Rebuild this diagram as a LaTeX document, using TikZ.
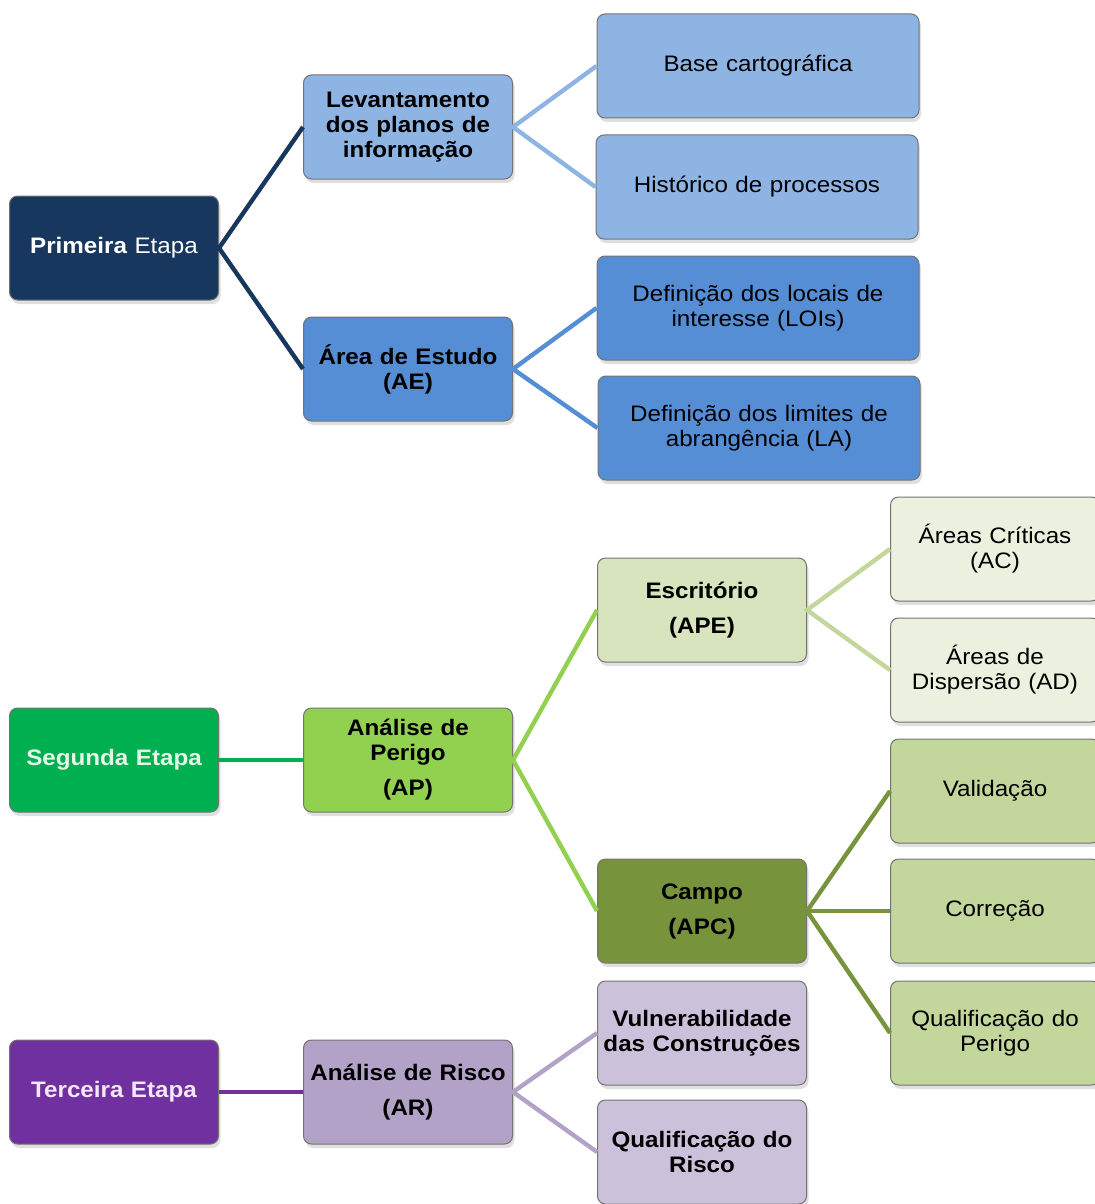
\documentclass[tikz,border=0pt]{standalone}
\usepackage{fontspec}
\setmainfont{Liberation Sans}[FakeStretch=1.08]
\usetikzlibrary{shadows}
\definecolor{navy}{HTML}{17375E}
\definecolor{skyblue}{HTML}{8EB4E3}
\definecolor{midblue}{HTML}{558ED5}
\definecolor{grass}{HTML}{00B050}
\definecolor{lime}{HTML}{92D050}
\definecolor{sage}{HTML}{D7E4BD}
\definecolor{olive}{HTML}{77933C}
\definecolor{moss}{HTML}{C3D69B}
\definecolor{mint}{HTML}{EBF1DE}
\definecolor{violet}{HTML}{7030A0}
\definecolor{lilac}{HTML}{B3A2C7}
\definecolor{mauve}{HTML}{CCC1DA}
\definecolor{mintink}{HTML}{E4F7E8}
\definecolor{pinkink}{HTML}{F3E8F7}

\begin{document}
\begin{tikzpicture}[
  x=0.5pt,y=-0.5pt,
  box/.style={draw=black!55,line width=0.5pt,rounded corners=4pt,align=center,
    minimum width=104.5pt,minimum height=52pt,text width=100pt,inner sep=2pt,
    font=\fontsize{11.2}{12.5}\selectfont,
    drop shadow={shadow xshift=1pt,shadow yshift=-2pt,opacity=0.25}},
  wide/.style={box,minimum width=161pt,text width=150pt},
  link/.style={line width=2.2pt}
]
\useasboundingbox (0,0) rectangle (1094,1204);
% stages
\node[box,fill=navy,text=white] (prim) at (114,248) {\textbf{Primeira} Etapa};
\node[box,fill=grass,text=mintink,font=\fontsize{11.2}{12.5}\selectfont\bfseries] (seg) at (114,760) {Segunda Etapa};
\node[box,fill=violet,text=pinkink,font=\fontsize{11.2}{12.5}\selectfont\bfseries] (ter) at (114,1092) {Terceira Etapa};
% first stage
\node[box,fill=skyblue,font=\fontsize{11.2}{12.5}\selectfont\bfseries] (lev) at (408,127) {Levantamento\\dos planos de\\informação};
\node[box,fill=midblue,font=\fontsize{11.2}{12.5}\selectfont\bfseries] (ae) at (408,369) {Área de Estudo\\(AE)};
\node[wide,fill=skyblue] (base) at (758,66) {Base cartográfica};
\node[wide,fill=skyblue] (hist) at (757,187) {Histórico de processos};
\node[wide,fill=midblue] (loi) at (758,308) {Definição dos locais de\\interesse (LOIs)};
\node[wide,fill=midblue] (la) at (759,428) {Definição dos limites de\\abrangência (LA)};
% second stage
\node[box,fill=lime,font=\fontsize{11.2}{12.5}\selectfont\bfseries] (ap) at (408,760) {Análise de\\Perigo\\[5pt](AP)};
\node[box,fill=sage,font=\fontsize{11.2}{12.5}\selectfont\bfseries] (esc) at (702,610) {Escritório\\[5pt](APE)};
\node[box,fill=olive,font=\fontsize{11.2}{12.5}\selectfont\bfseries] (campo) at (702,911) {Campo\\[5pt](APC)};
\node[box,fill=mint] (ac) at (995,549) {Áreas Críticas\\(AC)};
\node[box,fill=mint] (ad) at (995,670) {Áreas de\\Dispersão (AD)};
\node[box,fill=moss] (val) at (995,791) {Validação};
\node[box,fill=moss] (cor) at (995,911) {Correção};
\node[box,fill=moss] (qper) at (995,1033) {Qualificação do\\Perigo};
% third stage
\node[box,fill=lilac,font=\fontsize{11.2}{12.5}\selectfont\bfseries] (ar) at (408,1092) {Análise de Risco\\[5pt](AR)};
\node[box,fill=mauve,font=\fontsize{11.2}{12.5}\selectfont\bfseries] (vul) at (702,1033) {Vulnerabilidade\\das Construções};
\node[box,fill=mauve,font=\fontsize{11.2}{12.5}\selectfont\bfseries] (qrisco) at (702,1152) {Qualificação do\\Risco};
% connectors
\draw[link,navy] (lev.west)--(prim.east)--(ae.west);
\draw[link,skyblue] (base.west)--(lev.east)--(hist.west);
\draw[link,midblue] (loi.west)--(ae.east)--(la.west);
\draw[link,grass] (seg.east)--(ap.west);
\draw[link,lime] (esc.west)--(ap.east)--(campo.west);
\draw[link,moss] (ac.west)--(esc.east)--(ad.west);
\draw[link,olive] (val.west)--(campo.east)--(qper.west);
\draw[link,olive] (campo.east)--(cor.west);
\draw[link,violet] (ter.east)--(ar.west);
\draw[link,lilac] (vul.west)--(ar.east)--(qrisco.west);
\end{tikzpicture}
\end{document}
